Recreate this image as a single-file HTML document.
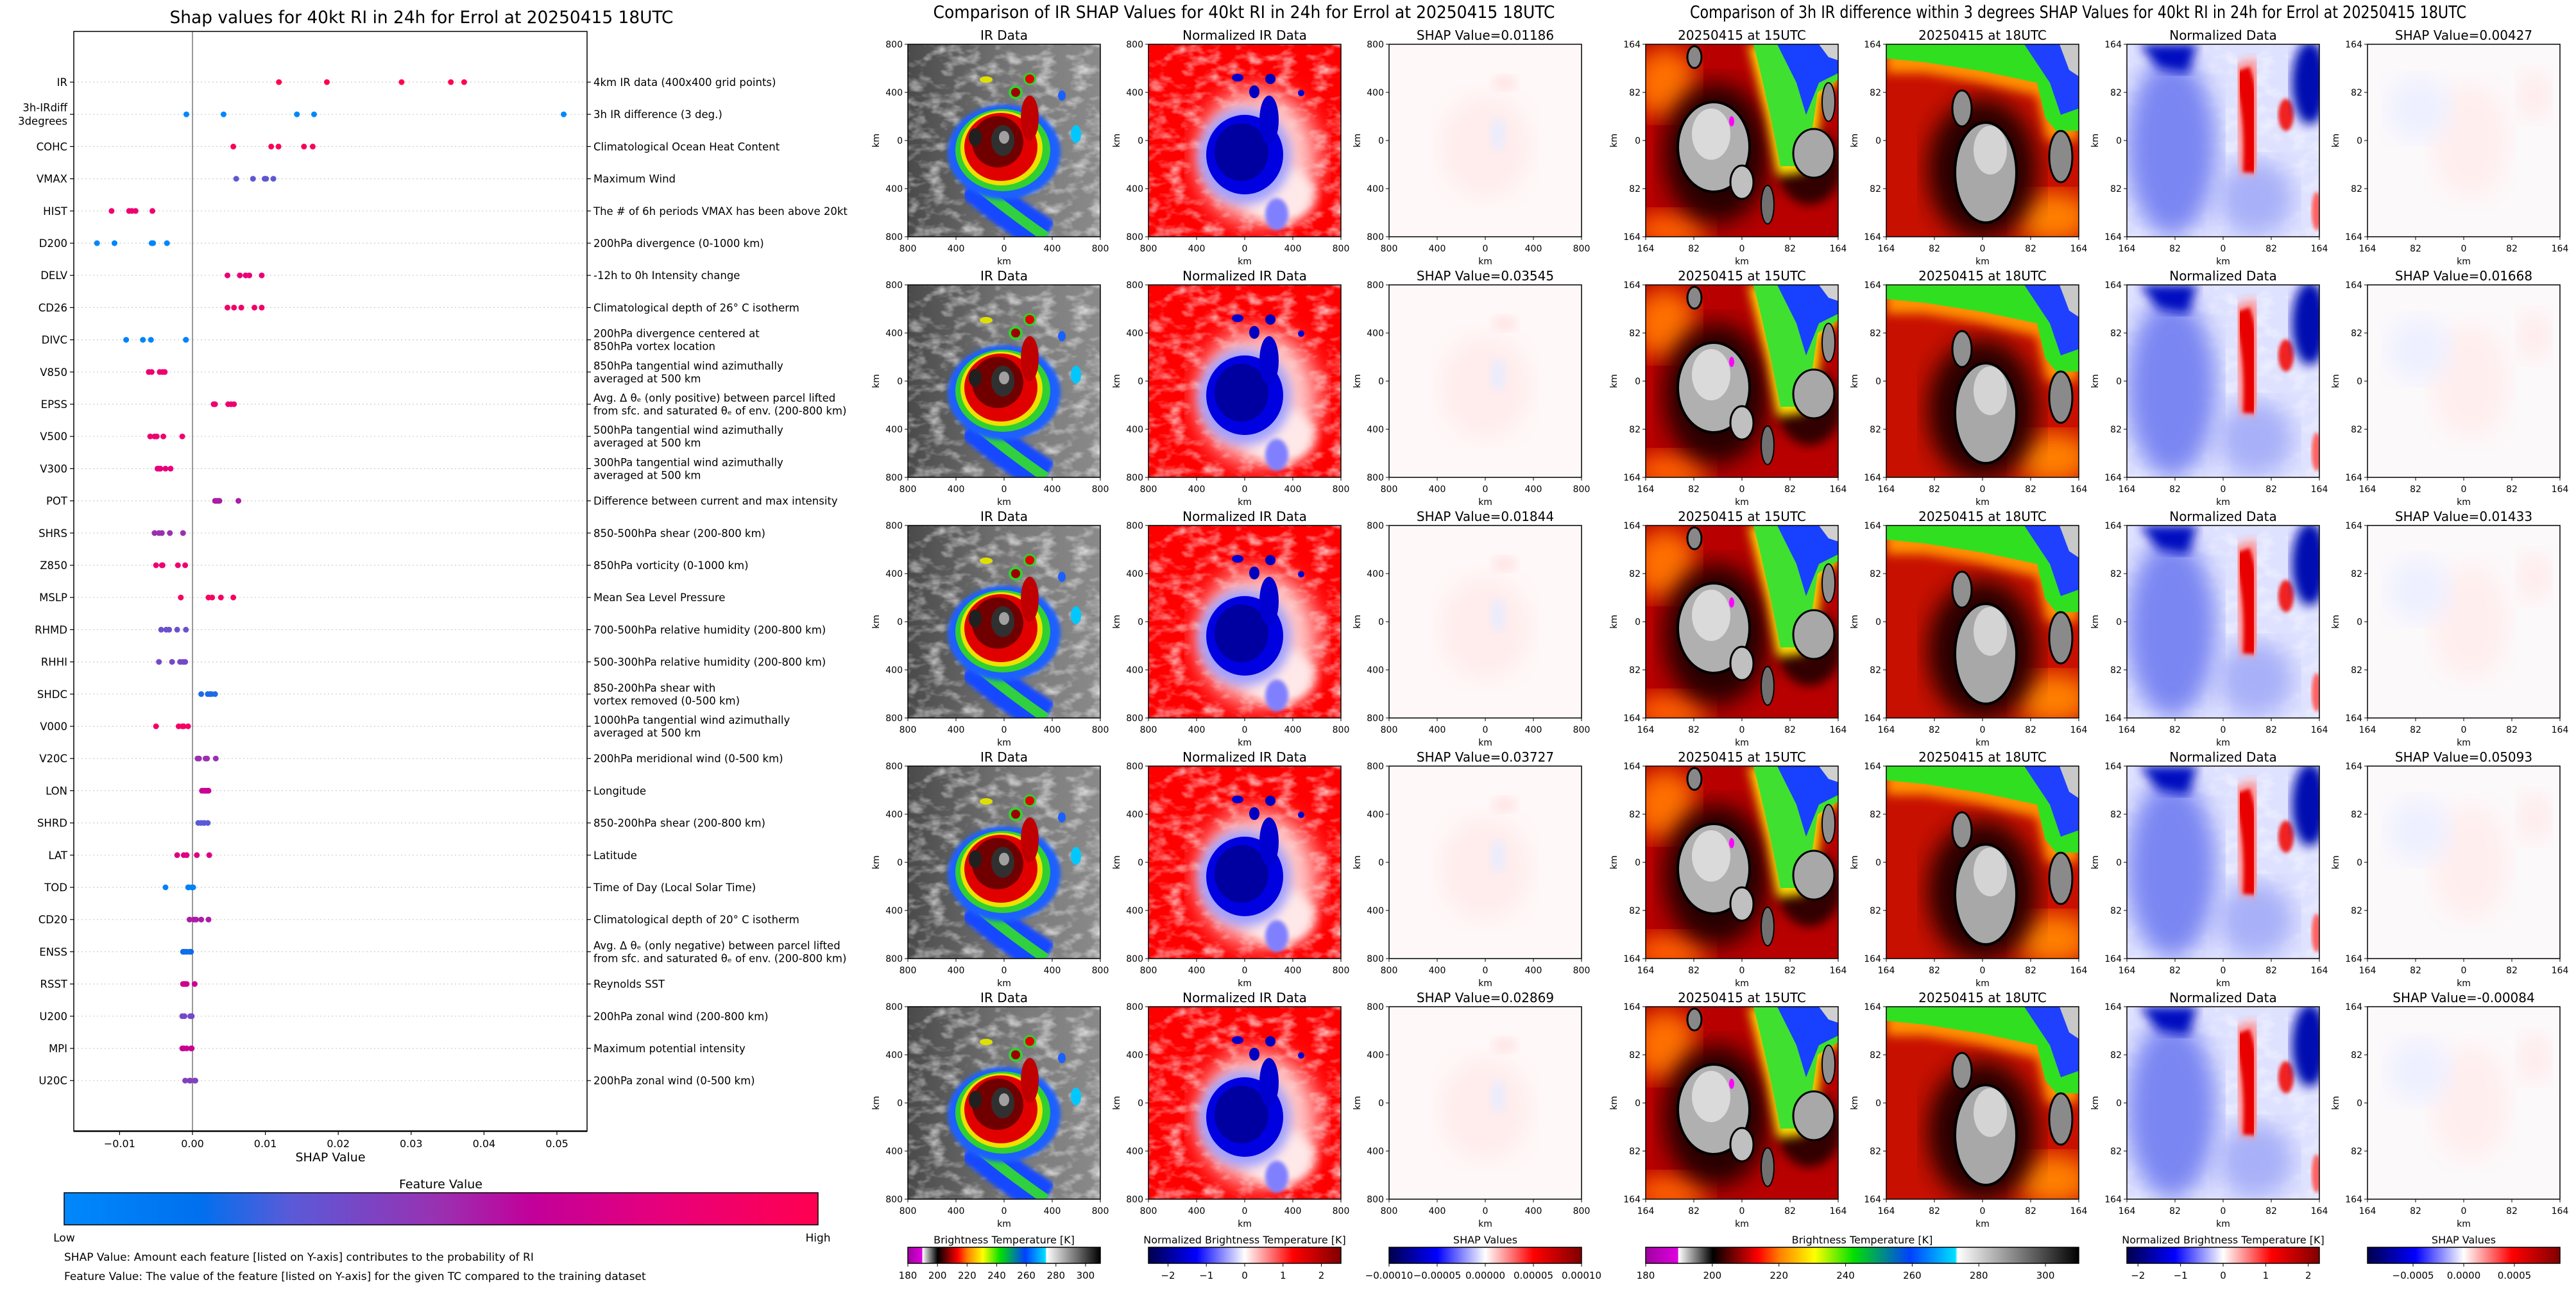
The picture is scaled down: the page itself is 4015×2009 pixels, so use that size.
<!DOCTYPE html>
<html><head><meta charset="utf-8"><title>SHAP values Errol</title>
<style>
html,body{margin:0;padding:0;background:#fff;}
svg{display:block;font-family:"DejaVu Sans","Liberation Sans",sans-serif;}
</style></head>
<body>
<svg id="fig" xmlns="http://www.w3.org/2000/svg" width="4015" height="2009" viewBox="0 0 4015 2009">
<defs>
  <linearGradient id="featGrad" x1="0" x2="1" y1="0" y2="0">
    <stop offset="0" stop-color="#0088fb"/><stop offset="0.18" stop-color="#0070ee"/>
    <stop offset="0.3" stop-color="#5a5ad8"/><stop offset="0.5" stop-color="#9a30b0"/>
    <stop offset="0.62" stop-color="#c2009a"/><stop offset="0.8" stop-color="#e8007a"/>
    <stop offset="1" stop-color="#ff0050"/>
  </linearGradient>
  <linearGradient id="irGrad" x1="0" x2="1" y1="0" y2="0">
    <stop offset="0" stop-color="#a000a0"/><stop offset="0.074" stop-color="#e000e0"/>
    <stop offset="0.076" stop-color="#ffffff"/><stop offset="0.155" stop-color="#000000"/>
    <stop offset="0.235" stop-color="#c00000"/><stop offset="0.26" stop-color="#ff0000"/>
    <stop offset="0.31" stop-color="#ff8000"/><stop offset="0.39" stop-color="#ffff00"/>
    <stop offset="0.48" stop-color="#00e000"/><stop offset="0.61" stop-color="#0040ff"/>
    <stop offset="0.715" stop-color="#00e0ff"/><stop offset="0.72" stop-color="#ffffff"/>
    <stop offset="1" stop-color="#000000"/>
  </linearGradient>
  <linearGradient id="seisGrad" x1="0" x2="1" y1="0" y2="0">
    <stop offset="0" stop-color="#00004c"/><stop offset="0.25" stop-color="#0000ff"/>
    <stop offset="0.5" stop-color="#ffffff"/><stop offset="0.75" stop-color="#ff0000"/>
    <stop offset="1" stop-color="#800000"/>
  </linearGradient>
  <linearGradient id="greyBg" x1="0" x2="1" y1="0" y2="0">
    <stop offset="0" stop-color="#4a4a4a"/><stop offset="0.6" stop-color="#7a7a7a"/><stop offset="1" stop-color="#8a8a8a"/>
  </linearGradient>
  <filter id="noiseW" x="0" y="0" width="1" height="1">
    <feTurbulence type="fractalNoise" baseFrequency="0.035 0.06" numOctaves="3" seed="4"/>
    <feColorMatrix type="matrix" values="0 0 0 0 1  0 0 0 0 1  0 0 0 0 1  0 0 0 2.2 -1.0"/>
    <feComposite in2="SourceGraphic" operator="in"/>
  </filter>
  <filter id="b3"><feGaussianBlur stdDeviation="3"/></filter>
  <filter id="b8"><feGaussianBlur stdDeviation="8"/></filter>
  <filter id="b18"><feGaussianBlur stdDeviation="18"/></filter>

  <symbol id="img-ir" viewBox="0 0 300 300">
    <rect width="300" height="300" fill="url(#greyBg)"/>
    <rect width="300" height="300" fill="#fff" filter="url(#noiseW)" opacity="0.7"/>
    <path d="M100 215 Q150 260 215 300" stroke="#1848ff" stroke-width="55" fill="none" filter="url(#b3)"/>
    <path d="M115 225 Q160 262 215 300" stroke="#30d040" stroke-width="16" fill="none"/>
    <ellipse cx="150" cy="168" rx="88" ry="74" fill="#1a60ff" filter="url(#b3)"/>
    <ellipse cx="148" cy="165" rx="74" ry="64" fill="#30d030"/>
    <ellipse cx="146" cy="162" rx="64" ry="58" fill="#f0e000"/>
    <ellipse cx="145" cy="160" rx="57" ry="53" fill="#e00000"/>
    <ellipse cx="190" cy="115" rx="14" ry="35" fill="#c00000"/>
    <ellipse cx="140" cy="152" rx="40" ry="40" fill="#700000"/>
    <ellipse cx="148" cy="150" rx="18" ry="24" fill="#303030"/>
    <ellipse cx="150" cy="145" rx="8" ry="10" fill="#a0a0a0"/>
    <ellipse cx="105" cy="145" rx="10" ry="14" fill="#202020"/>
    <circle cx="190" cy="54" r="10" fill="#30d030"/><circle cx="190" cy="54" r="7" fill="#e00000"/>
    <circle cx="168" cy="75" r="11" fill="#30d030"/><circle cx="168" cy="75" r="7" fill="#a00000"/>
    <ellipse cx="122" cy="55" rx="10" ry="5" fill="#e0e000"/>
    <ellipse cx="240" cy="80" rx="6" ry="8" fill="#1a60ff"/>
    <ellipse cx="262" cy="140" rx="8" ry="14" fill="#00c8ff"/>
  </symbol>

  <symbol id="img-nir" viewBox="0 0 300 300">
    <rect width="300" height="300" fill="#ff0000"/>
    <rect width="300" height="300" fill="#fff" filter="url(#noiseW)" opacity="0.75"/>
    <ellipse cx="170" cy="175" rx="95" ry="105" fill="#ffc8c8" filter="url(#b18)"/>
    <ellipse cx="205" cy="235" rx="55" ry="45" fill="#ffe8e8" filter="url(#b8)"/>
    <ellipse cx="150" cy="175" rx="72" ry="75" fill="#a0a0ff" filter="url(#b8)"/>
    <ellipse cx="150" cy="172" rx="60" ry="62" fill="#0000e0"/>
    <ellipse cx="145" cy="168" rx="42" ry="45" fill="#0000a0"/>
    <ellipse cx="188" cy="118" rx="15" ry="38" fill="#0000d0"/>
    <ellipse cx="200" cy="265" rx="18" ry="25" fill="#8080ff" filter="url(#b3)"/>
    <ellipse cx="139" cy="52" rx="9" ry="6" fill="#0000d0"/>
    <circle cx="190" cy="54" r="8" fill="#0000c0"/>
    <ellipse cx="165" cy="74" rx="8" ry="10" fill="#0000c0"/>
    <ellipse cx="238" cy="76" rx="5" ry="5" fill="#0000d0"/>
  </symbol>

  <symbol id="img-shir" viewBox="0 0 300 300">
    <rect width="300" height="300" fill="#fff8f8"/>
    <ellipse cx="150" cy="160" rx="70" ry="80" fill="#ffecec" filter="url(#b18)"/>
    <ellipse cx="170" cy="140" rx="12" ry="25" fill="#e8ecff" filter="url(#b8)"/>
    <ellipse cx="180" cy="60" rx="20" ry="12" fill="#ffe4e4" filter="url(#b8)"/>
  </symbol>

  <symbol id="img-d15" viewBox="0 0 300 300">
    <rect width="300" height="300" fill="#b80000"/>
    <ellipse cx="30" cy="60" rx="50" ry="55" fill="#ff7000" filter="url(#b18)"/>
    <ellipse cx="40" cy="290" rx="60" ry="30" fill="#ff6000" filter="url(#b18)"/>
    <ellipse cx="110" cy="170" rx="82" ry="110" fill="#280000" filter="url(#b18)"/>
    <ellipse cx="255" cy="190" rx="50" ry="60" fill="#300000" filter="url(#b8)"/>
    <polygon points="160,0 300,0 300,60 275,80 265,170 245,200 205,205 190,120 170,40" fill="#ffe000" filter="url(#b8)"/>
    <polygon points="168,0 300,0 300,55 268,75 255,165 238,190 210,190 195,115 178,40" fill="#40e030"/>
    <polygon points="205,0 300,0 300,45 270,60 250,110 235,60" fill="#1840ff"/>
    <polygon points="270,0 300,0 300,25 285,20" fill="#d0d0d0"/>
    <ellipse cx="106" cy="160" rx="56" ry="70" fill="#b0b0b0" stroke="#000" stroke-width="4"/>
    <ellipse cx="102" cy="140" rx="30" ry="40" fill="#dadada"/>
    <ellipse cx="150" cy="215" rx="18" ry="26" fill="#c0c0c0" stroke="#000" stroke-width="3"/>
    <ellipse cx="262" cy="170" rx="32" ry="38" fill="#a8a8a8" stroke="#000" stroke-width="3"/>
    <ellipse cx="285" cy="90" rx="10" ry="30" fill="#909090" stroke="#000" stroke-width="2"/>
    <ellipse cx="76" cy="20" rx="11" ry="17" fill="#888" stroke="#000" stroke-width="3"/>
    <ellipse cx="190" cy="250" rx="10" ry="30" fill="#707070" stroke="#000" stroke-width="2"/>
    <ellipse cx="134" cy="120" rx="4" ry="8" fill="#ff00ff"/>
  </symbol>

  <symbol id="img-d18" viewBox="0 0 300 300">
    <rect width="300" height="300" fill="#c81000"/>
    <ellipse cx="260" cy="270" rx="60" ry="40" fill="#ff8000" filter="url(#b18)"/>
    <ellipse cx="150" cy="195" rx="85" ry="110" fill="#280000" filter="url(#b18)"/>
    <polygon points="0,0 300,0 300,150 250,150 235,80 150,60 60,45 0,45" fill="#ff9000" filter="url(#b8)"/>
    <polygon points="0,0 300,0 300,135 265,135 248,115 235,60 150,42 60,28 0,22" fill="#30e020"/>
    <polygon points="215,0 300,0 300,100 272,110 255,60" fill="#2040ff"/>
    <polygon points="270,0 300,0 300,50 285,40" fill="#c8c8c8"/>
    <ellipse cx="155" cy="200" rx="48" ry="78" fill="#a8a8a8" stroke="#000" stroke-width="4"/>
    <ellipse cx="162" cy="165" rx="26" ry="38" fill="#d4d4d4"/>
    <ellipse cx="118" cy="100" rx="15" ry="28" fill="#909090" stroke="#000" stroke-width="3"/>
    <ellipse cx="272" cy="175" rx="18" ry="40" fill="#8a8a8a" stroke="#000" stroke-width="3"/>
  </symbol>

  <symbol id="img-dn" viewBox="0 0 300 300">
    <rect width="300" height="300" fill="#dfe2ff"/>
    <rect width="300" height="300" fill="#fff" filter="url(#noiseW)" opacity="0.5"/>
    <ellipse cx="70" cy="160" rx="70" ry="140" fill="#7a86f2" filter="url(#b18)"/>
    <ellipse cx="200" cy="240" rx="60" ry="60" fill="#a8b0f8" filter="url(#b18)"/>
    <polygon points="20,0 110,0 95,45 50,38" fill="#0010c0" filter="url(#b8)"/>
    <path d="M175 30 Q200 100 200 200" stroke="#ff9090" stroke-width="55" fill="none" filter="url(#b8)"/>
    <path d="M178 40 Q200 100 195 200" stroke="#e80000" stroke-width="28" fill="none" filter="url(#b3)"/>
    <ellipse cx="248" cy="110" rx="12" ry="25" fill="#f02020" filter="url(#b3)"/>
    <ellipse cx="285" cy="60" rx="28" ry="65" fill="#0010b0" filter="url(#b8)"/>
    <ellipse cx="296" cy="260" rx="8" ry="30" fill="#ff6060" filter="url(#b3)"/>
  </symbol>

  <symbol id="img-shd" viewBox="0 0 300 300">
    <rect width="300" height="300" fill="#fcf9fb"/>
    <ellipse cx="160" cy="150" rx="60" ry="90" fill="#ffeeee" filter="url(#b18)"/>
    <ellipse cx="80" cy="100" rx="50" ry="50" fill="#eef0ff" filter="url(#b18)"/>
    <ellipse cx="260" cy="80" rx="25" ry="40" fill="#ffeaea" filter="url(#b18)"/>
  </symbol>
</defs>
<g id="root"></g>
</svg>

<script>
// ---------------- Data: summary (beeswarm) plot ----------------
const featureNames = ["IR","3h-IRdiff\n3degrees","COHC","VMAX","HIST","D200","DELV","CD26","DIVC","V850","EPSS","V500","V300","POT","SHRS","Z850","MSLP","RHMD","RHHI","SHDC","V000","V20C","LON","SHRD","LAT","TOD","CD20","ENSS","RSST","U200","MPI","U20C"];
const featureDescs = ["4km IR data (400x400 grid points)","3h IR difference (3 deg.)","Climatological Ocean Heat Content","Maximum Wind","The # of 6h periods VMAX has been above 20kt","200hPa divergence (0-1000 km)","-12h to 0h Intensity change","Climatological depth of 26° C isotherm","200hPa divergence centered at\n850hPa vortex location","850hPa tangential wind azimuthally\naveraged at 500 km","Avg. Δ θₑ (only positive) between parcel lifted\nfrom sfc. and saturated θₑ of env. (200-800 km)","500hPa tangential wind azimuthally\naveraged at 500 km","300hPa tangential wind azimuthally\naveraged at 500 km","Difference between current and max intensity","850-500hPa shear (200-800 km)","850hPa vorticity (0-1000 km)","Mean Sea Level Pressure","700-500hPa relative humidity (200-800 km)","500-300hPa relative humidity (200-800 km)","850-200hPa shear with\nvortex removed (0-500 km)","1000hPa tangential wind azimuthally\naveraged at 500 km","200hPa meridional wind (0-500 km)","Longitude","850-200hPa shear (200-800 km)","Latitude","Time of Day (Local Solar Time)","Climatological depth of 20° C isotherm","Avg. Δ θₑ (only negative) between parcel lifted\nfrom sfc. and saturated θₑ of env. (200-800 km)","Reynolds SST","200hPa zonal wind (200-800 km)","Maximum potential intensity","200hPa zonal wind (0-500 km)"];
const shapValues = [
 [0.01186,0.01844,0.02869,0.03545,0.03727],
 [-0.00084,0.00427,0.01433,0.01668,0.05093],
 [0.0056,0.0108,0.0118,0.0153,0.0165],
 [0.0060,0.0083,0.0099,0.0101,0.0111],
 [-0.0111,-0.0087,-0.0083,-0.0078,-0.0055],
 [-0.0131,-0.0107,-0.0056,-0.0054,-0.0035],
 [0.0048,0.0065,0.0073,0.0078,0.0095],
 [0.0048,0.0057,0.0067,0.0085,0.0095],
 [-0.0091,-0.0068,-0.0057,-0.0009,-0.0009],
 [-0.0060,-0.0056,-0.0045,-0.0041,-0.0038],
 [0.0029,0.0031,0.0049,0.0053,0.0057],
 [-0.0058,-0.0052,-0.0049,-0.0040,-0.0014],
 [-0.0048,-0.0046,-0.0044,-0.0037,-0.0030],
 [0.0031,0.0033,0.0035,0.0037,0.0063],
 [-0.0052,-0.0046,-0.0042,-0.0031,-0.0013],
 [-0.0050,-0.0042,-0.0041,-0.0020,-0.0010],
 [-0.0016,0.0022,0.0027,0.0039,0.0056],
 [-0.0043,-0.0036,-0.0032,-0.0021,-0.0009],
 [-0.0046,-0.0028,-0.0017,-0.0013,-0.0010],
 [0.0012,0.0021,0.0024,0.0026,0.0031],
 [-0.0050,-0.0019,-0.0014,-0.0012,-0.0006],
 [0.0007,0.0009,0.0018,0.0020,0.0032],
 [0.0013,0.0016,0.0018,0.0020,0.0022],
 [0.0008,0.0012,0.0016,0.0016,0.0021],
 [-0.0021,-0.0012,-0.0008,0.0006,0.0023],
 [-0.0037,-0.0006,-0.0005,-0.0001,0.0001],
 [-0.0004,0.0002,0.0005,0.0012,0.0022],
 [-0.0013,-0.0011,-0.0008,-0.0004,-0.0002],
 [-0.0013,-0.0011,-0.0010,-0.0008,0.0003],
 [-0.0014,-0.0011,-0.0003,-0.0001,-0.0001],
 [-0.0014,-0.0012,-0.0008,-0.0002,-0.0001],
 [-0.0010,-0.0004,-0.0003,0.0003,0.0004]
];
const featureLevels = [1.0,0.0,0.95,0.32,0.85,0.02,0.82,0.88,0.03,0.85,0.85,0.85,0.8,0.55,0.5,0.85,0.92,0.35,0.38,0.22,0.9,0.5,0.65,0.3,0.75,0.05,0.55,0.2,0.68,0.38,0.65,0.42];
const xTickValues = [-0.01,0,0.01,0.02,0.03,0.04,0.05];
const xTickLabels = ["\u22120.01","0.00","0.01","0.02","0.03","0.04","0.05"];

// ---------------- Data: image panels ----------------
const irShapValues = [0.01186,0.03545,0.01844,0.03727,0.02869];
const diffShapValues = [0.00427,0.01668,0.01433,0.05093,-0.00084];
const midPanelTitles = ["IR Data","Normalized IR Data"];
const rightPanelTitles = ["20250415 at 15UTC","20250415 at 18UTC","Normalized Data"];
const midAxisTicks = ["800","400","0","400","800"];
const rightAxisTicks = ["164","82","0","82","164"];
const cbBtTicks = [180,200,220,240,260,280,300];
const cbNormTicks = [-2,-1,0,1,2];
const cbShapIrTicks = [-0.0001,-0.00005,0,0.00005,0.0001];
const cbShapIrLabels = ["\u22120.00010","\u22120.00005","0.00000","0.00005","0.00010"];
const cbShapDiffTicks = [-0.0005,0,0.0005];
const cbShapDiffLabels = ["\u22120.0005","0.0000","0.0005"];

// ---------------- helpers ----------------
const NS = "http://www.w3.org/2000/svg";
const root = document.getElementById('root');
function mk(tag, attrs, parent){
  const e = document.createElementNS(NS, tag);
  for (const k in attrs) e.setAttribute(k, attrs[k]);
  (parent || root).appendChild(e);
  return e;
}
function txt(str, attrs, parent){
  const e = mk('text', attrs, parent);
  e.textContent = str;
  return e;
}
const cmapStops = [[0,[0,136,251]],[0.18,[0,112,238]],[0.3,[90,90,216]],[0.5,[154,48,176]],[0.62,[194,0,154]],[0.8,[232,0,122]],[1,[255,0,80]]];
function cmap(v){
  for (let i=1;i<cmapStops.length;i++){
    if (v <= cmapStops[i][0]){
      const a=cmapStops[i-1], b=cmapStops[i], t=(v-a[0])/(b[0]-a[0]);
      const c=a[1].map((x,j)=>Math.round(x+(b[1][j]-x)*t));
      return 'rgb('+c.join(',')+')';
    }
  }
  return 'rgb(255,0,80)';
}

// ---------------- summary plot ----------------
const LX0=115, LX1=915, LY0=49, LY1=1763;
const xScale = v => 300 + v*11360;
const rowY = i => 128 + i*50.2;

const title1 = txt("Shap values for 40kt RI in 24h for Errol at 20250415 18UTC",{x:657,y:36,'font-size':27,'text-anchor':'middle',textLength:785,lengthAdjust:'spacingAndGlyphs'});



const plotG = mk('g',{});



featureNames.forEach((name,i)=>{
  const y=rowY(i);
  const grid = mk('line',{x1:LX0,x2:LX1,y1:y,y2:y,stroke:'#cccccc','stroke-width':1.2,'stroke-dasharray':'2,4'},plotG);
  
  
  mk('line',{x1:LX0-6,x2:LX0,y1:y,y2:y,stroke:'#000','stroke-width':1.2},plotG);
  mk('line',{x1:LX1,x2:LX1+6,y1:y,y2:y,stroke:'#000','stroke-width':1.2},plotG);
  const nl = name.split('\n');
  nl.forEach((ln,k)=>{
    const t = txt(ln,{x:105,y:y+6+(k-(nl.length-1)/2)*21,'font-size':16.5,'text-anchor':'end'},plotG);
    
    
  });
  const dl = featureDescs[i].split('\n');
  dl.forEach((ln,k)=>{
    const t = txt(ln,{x:925,y:y+6+(k-(dl.length-1)/2)*20,'font-size':16.5},plotG);
    
    
  });
});

const zeroLine = mk('line',{x1:xScale(0),x2:xScale(0),y1:LY0,y2:LY1,stroke:'#999','stroke-width':2},plotG);



shapValues.forEach((vals,i)=>{
  vals.forEach(v=>{
    const d = mk('circle',{cx:xScale(v),cy:rowY(i),r:4.5,fill:cmap(featureLevels[i])},plotG);
    
    
  });
});

const frame = mk('rect',{x:LX0,y:LY0,width:LX1-LX0,height:LY1-LY0,fill:'none',stroke:'#000','stroke-width':1.5},plotG);


mk('line',{x1:LX0,x2:LX1,y1:LY1,y2:LY1,stroke:'#000','stroke-width':2.5},plotG);

xTickValues.forEach((v,i)=>{
  const x=xScale(v);
  mk('line',{x1:x,x2:x,y1:LY1,y2:LY1+6,stroke:'#000','stroke-width':1.2},plotG);
  const t = txt(xTickLabels[i],{x:x,y:1788,'font-size':16,'text-anchor':'middle'},plotG);
  
  
});
const xl = txt("SHAP Value",{x:515,y:1810,'font-size':19,'text-anchor':'middle'},plotG);



const fvT = txt("Feature Value",{x:687,y:1852,'font-size':19,'text-anchor':'middle'});


const fvBar = mk('rect',{x:100,y:1859,width:1175,height:50,fill:'url(#featGrad)',stroke:'#000','stroke-width':1.5});


const lowT = txt("Low",{x:100,y:1935,'font-size':17,'text-anchor':'middle'});


const highT = txt("High",{x:1275,y:1935,'font-size':17,'text-anchor':'middle'});


const n1 = txt("SHAP Value: Amount each feature [listed on Y-axis] contributes to the probability of RI",{x:100,y:1965,'font-size':17});


const n2 = txt("Feature Value: The value of the feature [listed on Y-axis] for the given TC compared to the training dataset",{x:100,y:1995,'font-size':17});



// ---------------- image panels ----------------
const t2 = txt("Comparison of IR SHAP Values for 40kt RI in 24h for Errol at 20250415 18UTC",{x:1939,y:28,'font-size':27,'text-anchor':'middle',textLength:969,lengthAdjust:'spacingAndGlyphs'});


const t3 = txt("Comparison of 3h IR difference within 3 degrees SHAP Values for 40kt RI in 24h for Errol at 20250415 18UTC",{x:3239,y:28,'font-size':27,'text-anchor':'middle',textLength:1210,lengthAdjust:'spacingAndGlyphs'});



const midLefts=[1415,1790,2165], rightLefts=[2565,2940,3315,3690];
const midSyms=['#img-ir','#img-nir','#img-shir'], rightSyms=['#img-d15','#img-d18','#img-dn','#img-shd'];
const P=300;
function panel(x0,y0,sym,title,ticks,name){
  const g = mk('g',{});
  
  
  const u = mk('use',{href:sym,x:x0,y:y0,width:P,height:P},g);
  
  
  mk('rect',{x:x0,y:y0,width:P,height:P,fill:'none',stroke:'#000','stroke-width':1.5},g);
  const tt = txt(title,{x:x0+P/2,y:y0-7,'font-size':20,'text-anchor':'middle'},g);
  
  
  ticks.forEach((lab,k)=>{
    const p = k*P/(ticks.length-1);
    mk('line',{x1:x0+p,x2:x0+p,y1:y0+P,y2:y0+P+5,stroke:'#000','stroke-width':1},g);
    mk('line',{x1:x0-5,x2:x0,y1:y0+p,y2:y0+p,stroke:'#000','stroke-width':1},g);
    const xt = txt(lab,{x:x0+p,y:y0+P+23,'font-size':14,'text-anchor':'middle'},g);
    
    
    const yt = txt(lab,{x:x0-8,y:y0+p+5,'font-size':14,'text-anchor':'end'},g);
    
    
  });
  const xk = txt("km",{x:x0+P/2,y:y0+P+43,'font-size':14,'text-anchor':'middle'},g);
  
  
  const yk = txt("km",{x:0,y:0,'font-size':14,'text-anchor':'middle',transform:'translate('+(x0-45)+','+(y0+P/2)+') rotate(-90)'},g);
  
  
}
for (let r=0;r<5;r++){
  const y0 = 69 + r*375;
  midLefts.forEach((x0,c)=>{
    const title = c<2 ? midPanelTitles[c] : 'SHAP Value='+irShapValues[r].toFixed(5);
    panel(x0,y0,midSyms[c],title,midAxisTicks,['ir-data-panel','normalized-ir-panel','ir-shap-panel'][c]);
  });
  rightLefts.forEach((x0,c)=>{
    const title = c<3 ? rightPanelTitles[c] : 'SHAP Value='+diffShapValues[r].toFixed(5);
    panel(x0,y0,rightSyms[c],title,rightAxisTicks,['ir-15utc-panel','ir-18utc-panel','normalized-diff-panel','diff-shap-panel'][c]);
  });
}

// ---------------- colorbars ----------------
function colorbar(x0,w,grad,title,vmin,vmax,ticks,labels,name){
  const g = mk('g',{});
  
  
  const ct = txt(title,{x:x0+w/2,y:1938,'font-size':16,'text-anchor':'middle'},g);
  
  
  mk('rect',{x:x0,y:1944,width:w,height:25,fill:grad,stroke:'#000','stroke-width':1.5},g);
  ticks.forEach((v,k)=>{
    const x = x0 + (v-vmin)/(vmax-vmin)*w;
    mk('line',{x1:x,x2:x,y1:1969,y2:1974,stroke:'#000','stroke-width':1},g);
    const tl = txt(labels[k],{x:x,y:1993,'font-size':15,'text-anchor':'middle'},g);
    
    
  });
}
const btLabels = cbBtTicks.map(String);
const normLabels = cbNormTicks.map(v=>v<0?'\u2212'+(-v):String(v));
colorbar(1415,300,'url(#irGrad)','Brightness Temperature [K]',180,310,cbBtTicks,btLabels,'ir-brightness-colorbar');
colorbar(1790,300,'url(#seisGrad)','Normalized Brightness Temperature [K]',-2.51,2.51,cbNormTicks,normLabels,'ir-normalized-colorbar');
colorbar(2165,300,'url(#seisGrad)','SHAP Values',-0.0001,0.0001,cbShapIrTicks,cbShapIrLabels,'ir-shap-colorbar');
colorbar(2565,675,'url(#irGrad)','Brightness Temperature [K]',180,310,cbBtTicks,btLabels,'diff-brightness-colorbar');
colorbar(3315,300,'url(#seisGrad)','Normalized Brightness Temperature [K]',-2.26,2.26,cbNormTicks,normLabels,'diff-normalized-colorbar');
colorbar(3690,300,'url(#seisGrad)','SHAP Values',-0.00095,0.00095,cbShapDiffTicks,cbShapDiffLabels,'diff-shap-colorbar');
</script>
</body></html>
